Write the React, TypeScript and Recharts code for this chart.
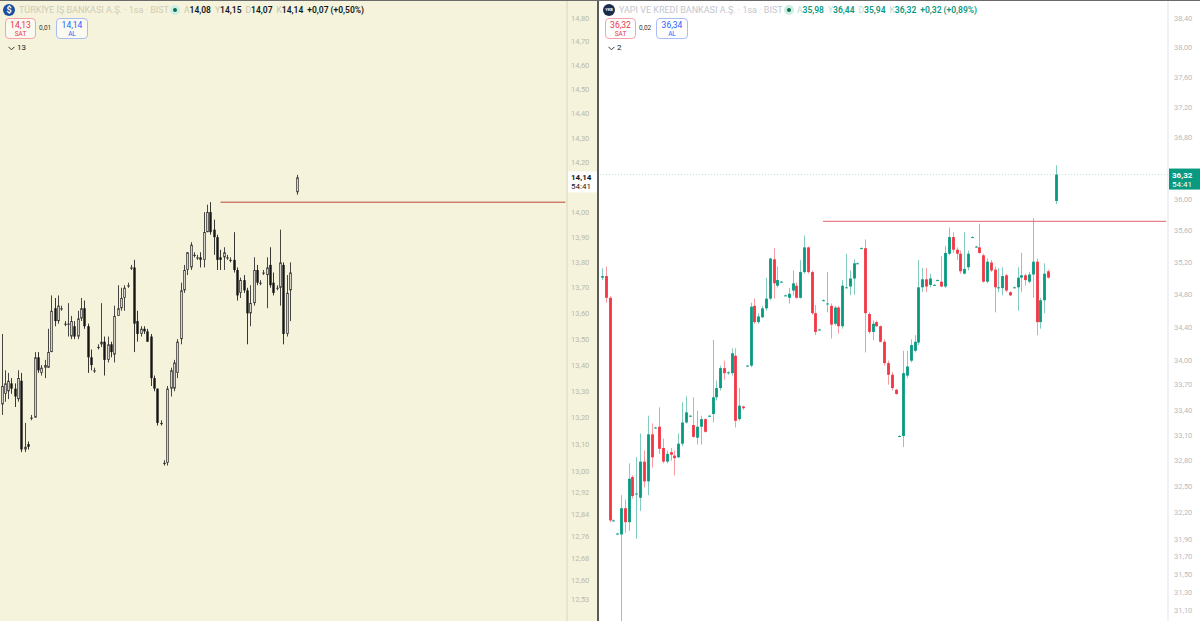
import { Bar, ComposedChart, ReferenceLine, XAxis, YAxis } from "recharts";

// TÜRKİYE İŞ BANKASI, 1sa (left pane)
const IS_OPEN = [13.25, 13.29, 13.30, 13.33, 13.31, 13.27, 13.34, 13.08, 13.10, 13.20, 13.20, 13.43, 13.37, 13.39, 13.39, 13.45, 13.62, 13.57, 13.62, 13.56, 13.56, 13.51, 13.55, 13.51, 13.58, 13.62, 13.55, 13.43, 13.38, 13.47, 13.48, 13.49, 13.42, 13.48, 13.44, 13.59, 13.62, 13.66, 13.71, 13.78, 13.78, 13.57, 13.52, 13.54, 13.53, 13.51, 13.35, 13.31, 13.18, 13.03, 13.03, 13.31, 13.31, 13.37, 13.50, 13.69, 13.77, 13.78, 13.83, 13.82, 13.82, 13.81, 13.92, 14.00, 13.93, 13.90, 13.82, 13.82, 13.82, 13.81, 13.81, 13.77, 13.68, 13.73, 13.69, 13.60, 13.64, 13.77, 13.72, 13.76, 13.75, 13.79, 13.72, 13.70, 13.70, 13.79, 13.52, 13.69, null, 14.08];
const IS_HIGH = [13.52, 13.38, 13.37, 13.35, 13.33, 13.38, 13.37, 13.18, 13.11, 13.21, 13.45, 13.45, 13.40, 13.42, 13.54, 13.67, 13.66, 13.67, 13.63, 13.57, 13.64, 13.59, 13.57, 13.61, 13.66, 13.65, 13.56, 13.46, 13.39, 13.48, 13.64, 13.51, 13.51, 13.49, 13.63, 13.71, 13.70, 13.71, 13.72, 13.79, 13.81, 13.61, 13.55, 13.55, 13.54, 13.52, 13.36, 13.31, 13.19, 13.04, 13.32, 13.39, 13.42, 13.50, 13.72, 13.79, 13.84, 13.88, 13.84, 13.83, 13.84, 14.00, 14.03, 14.04, 13.97, 13.91, 13.85, 13.86, 13.83, 13.82, 13.92, 13.78, 13.74, 13.75, 13.70, 13.71, 13.82, 13.79, 13.73, 13.77, 13.82, 13.86, 13.76, 13.71, 13.93, 13.80, 13.75, 13.80, null, 14.15];
const IS_LOW = [13.21, 13.26, 13.27, 13.29, 13.24, 13.26, 13.07, 13.07, 13.08, 13.19, 13.20, 13.37, 13.36, 13.35, 13.39, 13.45, 13.55, 13.56, 13.61, 13.55, 13.51, 13.50, 13.50, 13.50, 13.57, 13.54, 13.37, 13.38, 13.37, 13.46, 13.47, 13.36, 13.41, 13.43, 13.41, 13.59, 13.61, 13.61, 13.70, 13.77, 13.45, 13.49, 13.51, 13.52, 13.49, 13.32, 13.30, 13.17, 13.17, 13.02, 13.02, 13.28, 13.30, 13.35, 13.48, 13.68, 13.75, 13.77, 13.82, 13.81, 13.78, 13.78, 13.92, 13.91, 13.83, 13.77, 13.77, 13.77, 13.81, 13.80, 13.76, 13.65, 13.66, 13.68, 13.48, 13.55, 13.63, 13.71, 13.71, 13.75, 13.62, 13.70, 13.67, 13.69, 13.63, 13.48, 13.51, 13.57, null, 14.07];
const IS_CLOSE = [13.32, 13.33, 13.34, 13.31, 13.28, 13.35, 13.08, 13.09, 13.09, 13.20, 13.43, 13.38, 13.39, 13.40, 13.45, 13.61, 13.57, 13.63, 13.62, 13.56, 13.56, 13.57, 13.51, 13.58, 13.62, 13.55, 13.43, 13.40, 13.38, 13.47, 13.49, 13.42, 13.48, 13.45, 13.59, 13.62, 13.66, 13.70, 13.71, 13.78, 13.56, 13.52, 13.54, 13.53, 13.49, 13.35, 13.31, 13.18, 13.18, 13.03, 13.31, 13.38, 13.41, 13.49, 13.69, 13.77, 13.84, 13.87, 13.83, 13.82, 13.81, 13.92, 14.00, 13.92, 13.90, 13.81, 13.81, 13.84, 13.82, 13.81, 13.77, 13.67, 13.73, 13.69, 13.60, 13.64, 13.77, 13.72, 13.72, 13.76, 13.78, 13.71, 13.68, 13.70, 13.80, 13.52, 13.68, 13.76, null, 14.14];
const IS_TICKS = [12.53, 12.6, 12.68, 12.76, 12.84, 12.92, 13, 13.1, 13.2, 13.3, 13.4, 13.5, 13.6, 13.7, 13.8, 13.9, 14, 14.2, 14.3, 14.4, 14.5, 14.6, 14.7, 14.8];
const IS_LEVEL = 14.04;
const IS_LAST = 14.14;

// YAPI VE KREDİ BANKASI, 1sa (right pane)
const YKB_OPEN = [35.01, 35.03, 34.76, 32.11, 31.96, 31.95, 32.25, 32.09, 32.61, 32.42, 32.37, 32.79, 32.56, 33.11, 33.19, 33.20, 32.95, 32.79, 32.90, 32.86, 32.84, 33.00, 33.25, 33.33, 33.22, 33.07, 33.20, 33.29, 33.33, 33.35, 33.55, 33.66, 33.90, 33.84, 33.84, 34.05, 33.29, 33.44, 33.93, 33.93, 34.66, 34.46, 34.52, 34.63, 34.75, 35.24, 34.91, 34.96, 34.79, 34.76, 34.85, 34.91, 34.76, 35.08, 35.39, 35.08, 34.57, 34.37, 34.73, 34.69, 34.66, 34.44, 34.64, 34.41, 34.89, 34.90, 35.00, 35.19, 35.38, 35.38, 34.56, 34.34, 34.46, 34.41, 34.22, 33.96, 33.82, 33.64, 33.09, 33.09, 33.81, 33.99, 34.11, 34.21, 34.89, 34.99, 34.92, 34.92, 34.98, 34.96, 34.90, 35.31, 35.52, 35.36, 35.31, 35.06, 35.14, 35.52, 35.40, 35.39, 35.29, 34.96, 35.20, 35.11, 34.88, 34.88, 35.04, 34.83, 34.89, 34.89, 35.01, 35.04, 34.96, 35.05, 35.21, 34.46, 34.73, 35.09, null, 35.98];
const YKB_HIGH = [35.13, 35.15, 34.78, 32.12, 31.97, 32.40, 32.35, 32.77, 32.63, 32.84, 33.12, 32.92, 33.33, 33.24, 33.20, 33.43, 33.06, 32.92, 32.95, 32.92, 33.12, 33.49, 33.56, 33.34, 33.55, 33.39, 33.33, 33.30, 33.34, 34.24, 33.75, 33.93, 33.99, 33.86, 34.14, 34.14, 33.66, 33.45, 33.94, 34.70, 34.75, 34.57, 34.66, 35.01, 35.26, 35.38, 35.15, 34.97, 34.80, 34.88, 35.10, 34.95, 35.23, 35.54, 35.40, 35.10, 34.67, 34.38, 34.74, 35.08, 34.69, 34.66, 34.66, 34.98, 35.31, 35.10, 35.24, 35.20, 35.39, 35.49, 34.58, 34.48, 34.48, 34.42, 34.25, 33.99, 33.85, 33.65, 33.10, 34.11, 34.11, 34.25, 34.30, 35.23, 35.13, 35.13, 35.06, 34.93, 34.99, 35.28, 35.41, 35.64, 35.58, 35.39, 35.35, 35.58, 35.35, 35.53, 35.41, 35.69, 35.31, 35.25, 35.23, 35.15, 35.13, 35.14, 35.06, 34.84, 34.90, 35.14, 35.32, 35.06, 35.08, 35.76, 35.25, 34.76, 35.19, 35.11, null, 36.44];
const YKB_LOW = [34.98, 34.70, 32.09, 32.10, 31.95, 30.80, 31.97, 31.99, 32.36, 31.90, 32.22, 32.49, 32.40, 32.72, 33.18, 32.88, 32.77, 32.77, 32.80, 32.63, 32.83, 32.97, 33.24, 33.32, 33.07, 32.99, 32.99, 33.13, 33.32, 33.25, 33.51, 33.63, 33.76, 33.82, 33.81, 33.19, 33.27, 33.40, 33.92, 33.91, 34.44, 34.44, 34.51, 34.60, 34.73, 34.75, 34.89, 34.95, 34.78, 34.69, 34.79, 34.75, 34.75, 35.06, 35.06, 34.55, 34.30, 34.36, 34.72, 34.58, 34.26, 34.42, 34.32, 34.38, 34.88, 34.79, 34.80, 35.18, 35.37, 34.09, 34.32, 34.24, 34.40, 34.21, 33.93, 33.70, 33.63, 33.58, 33.08, 32.96, 33.78, 33.97, 34.09, 34.18, 34.83, 34.83, 34.89, 34.91, 34.97, 34.89, 34.88, 35.29, 35.32, 35.23, 35.06, 35.05, 35.10, 35.51, 35.39, 35.31, 34.95, 34.94, 35.08, 34.58, 34.83, 34.79, 34.83, 34.78, 34.88, 34.60, 34.83, 34.91, 34.94, 34.76, 34.30, 34.38, 34.57, 35.00, null, 35.94];
const YKB_CLOSE = [35.03, 34.76, 32.11, 32.11, 31.96, 32.25, 32.09, 32.59, 32.39, 32.42, 32.79, 32.56, 33.11, 32.84, 33.19, 32.94, 32.79, 32.88, 32.87, 32.83, 33.00, 33.25, 33.37, 33.33, 33.08, 33.20, 33.29, 33.14, 33.33, 33.55, 33.66, 33.90, 33.84, 33.85, 34.08, 33.27, 33.45, 33.42, 33.93, 34.65, 34.46, 34.53, 34.63, 34.75, 35.25, 34.94, 34.98, 34.96, 34.79, 34.81, 34.94, 34.76, 35.08, 35.39, 35.08, 34.57, 34.34, 34.37, 34.73, 34.69, 34.43, 34.64, 34.41, 34.91, 34.89, 35.00, 35.19, 35.19, 35.38, 34.57, 34.34, 34.44, 34.41, 34.22, 33.96, 33.82, 33.66, 33.59, 33.09, 33.84, 33.92, 34.18, 34.22, 34.89, 34.99, 34.90, 35.00, 34.92, 34.98, 34.90, 35.32, 35.52, 35.36, 35.31, 35.09, 35.12, 35.31, 35.52, 35.40, 35.32, 34.96, 35.21, 35.10, 34.89, 34.89, 35.03, 34.85, 34.79, 34.89, 35.01, 35.04, 34.98, 35.05, 35.21, 34.46, 34.73, 35.06, 35.01, null, 36.32];
const YKB_TICKS = [31.1, 31.3, 31.5, 31.7, 31.9, 32.2, 32.5, 32.8, 33.1, 33.4, 33.7, 34, 34.4, 34.8, 35.2, 35.6, 36, 36.8, 37.2, 37.6, 38, 38.4];
const YKB_LEVEL = 35.72;
const YKB_LAST = 36.32;

const FONT = "Roboto, 'Noto Sans', Arial, sans-serif";
const fmt = (v: number) => v.toFixed(2).replace(".", ",");

type Row = { i: string; o: number | null; h: number | null; l: number | null; c: number | null };

function buildRows(o: any[], h: any[], l: any[], c: any[], slots: number): Row[] {
  return Array.from({ length: slots }, (_, i) => ({
    i: String(i),
    o: o[i] ?? null,
    h: h[i] ?? null,
    l: l[i] ?? null,
    c: c[i] ?? null,
  }));
}

const range = (d: Row) => (d.h == null || d.l == null ? null : [d.l, d.h]);

type CandleStyle = { bodyW: number; up: string; down: string; upStroke: string; wickUp: string; wickDown: string; wickOpacity: number };

function candleShape(st: CandleStyle) {
  return (props: any) => {
    const { x, y, width, height, payload } = props;
    if (!payload || payload.o == null || !isFinite(y)) return <g />;
    const { o, h, l, c } = payload;
    const span = Math.log(h) - Math.log(l);
    const py = (v: number) => (span > 0 ? y + (height * (Math.log(h) - Math.log(v))) / span : y);
    const cx = Math.round(x + width / 2) + 0.5;
    const up = c >= o;
    const top = py(Math.max(o, c));
    const bh = Math.max(py(Math.min(o, c)) - top, 1);
    return (
      <g>
        <line x1={cx} x2={cx} y1={y} y2={y + Math.max(height, 1)} stroke={up ? st.wickUp : st.wickDown} strokeOpacity={st.wickOpacity} strokeWidth={1} />
        {up && st.upStroke !== "none" ? (
          <rect x={cx - st.bodyW / 2 + 0.4} y={top + 0.4} width={st.bodyW - 0.8} height={Math.max(bh - 0.8, 0.4)} fill={st.up} stroke={st.upStroke} strokeWidth={0.8} />
        ) : (
          <rect x={cx - st.bodyW / 2} y={top} width={st.bodyW} height={bh} fill={up ? st.up : st.down} />
        )}
      </g>
    );
  };
}

function PriceTag(props: any) {
  const { viewBox, price, bg, fg, w } = props;
  if (!viewBox) return null;
  const x = viewBox.x + viewBox.width + 1;
  const y = viewBox.y;
  return (
    <g>
      <rect x={x} y={y - 6} width={w} height={21} fill={bg} />
      <text x={x + 3} y={y + 3} fontSize={8} fontWeight={700} fill={fg} fontFamily={FONT}>{price}</text>
      <text x={x + 3} y={y + 12} fontSize={8} fill={fg} fontFamily={FONT}>54:41</text>
    </g>
  );
}

const isRows = buildRows(IS_OPEN, IS_HIGH, IS_LOW, IS_CLOSE, 171);
const ykbRows = buildRows(YKB_OPEN, YKB_HIGH, YKB_LOW, YKB_CLOSE, 149);

const isCandle = candleShape({ bodyW: 2.4, up: "#fbfaf2", down: "#151515", upStroke: "#2a2a2a", wickUp: "#333", wickDown: "#222", wickOpacity: 0.9 });
const ykbCandle = candleShape({ bodyW: 2.8, up: "#089981", down: "#f23645", upStroke: "none", wickUp: "#089981", wickDown: "#f23645", wickOpacity: 0.5 });

function Chevron({ x, y }: { x: number; y: number }) {
  return (
    <svg width={7} height={5} style={{ position: "absolute", left: x, top: y }}>
      <polyline points="0.5,0.8 3.5,3.8 6.5,0.8" fill="none" stroke="#333" strokeWidth={1} />
    </svg>
  );
}

function Legend(props: {
  left: number; icon: string; iconBg: string; title: string; titleColor: string; valColor: string;
  vals: string[]; chg: string; sat: string; al: string; spread: string; count: string; faint: string; boxBg: string;
}) {
  const p = props;
  const labels = ["A", "Y", "D", "K"];
  return (
    <div style={{ position: "absolute", left: p.left, top: 0, width: 590, height: 60, fontFamily: FONT, pointerEvents: "none" }}>
      <div style={{ position: "absolute", left: 3, top: 4, width: 12, height: 12, borderRadius: 6, background: p.iconBg, color: "#fff", fontSize: p.icon.length > 1 ? 4 : 9, fontWeight: 700, lineHeight: "12px", textAlign: "center" }}>{p.icon}</div>
      <div style={{ position: "absolute", left: 19, top: 4, fontSize: 9, lineHeight: "12px", color: p.titleColor, whiteSpace: "nowrap" }}>{p.title}</div>
      <div style={{ position: "absolute", left: 170 + (p.left ? 14 : 0), top: 5, width: 10, height: 10, borderRadius: 5, background: "#cdeee2" }}>
        <div style={{ position: "absolute", left: 3, top: 3, width: 4, height: 4, borderRadius: 2, background: "#0b6e53" }} />
      </div>
      <div style={{ position: "absolute", left: 184 + (p.left ? 13 : 0), top: 4, fontSize: 8.5, lineHeight: "12px", whiteSpace: "nowrap", color: p.valColor, fontWeight: 600 }}>
        {p.vals.map((v, k) => (
          <span key={k}>
            <span style={{ color: p.faint, fontWeight: 400 }}>{labels[k]}</span>
            <span style={{ marginRight: 4 }}>{v}</span>
          </span>
        ))}
        <span>{p.chg}</span>
      </div>
      <div style={{ position: "absolute", left: 5, top: 18, width: 29, height: 19, border: "1px solid #f5a3ab", borderRadius: 4, background: p.boxBg, color: "#e8364a", textAlign: "center" }}>
        <div style={{ fontSize: 8.5, lineHeight: "10px", marginTop: 1 }}>{p.sat}</div>
        <div style={{ fontSize: 6.5, lineHeight: "8px" }}>SAT</div>
      </div>
      <div style={{ position: "absolute", left: 39, top: 24, fontSize: 6.5, color: "#333" }}>{p.spread}</div>
      <div style={{ position: "absolute", left: 56, top: 18, width: 30, height: 19, border: "1px solid #a9bdf4", borderRadius: 4, background: p.boxBg, color: "#2962ff", textAlign: "center" }}>
        <div style={{ fontSize: 8.5, lineHeight: "10px", marginTop: 1 }}>{p.al}</div>
        <div style={{ fontSize: 6.5, lineHeight: "8px" }}>AL</div>
      </div>
      <Chevron x={8} y={46} />
      <div style={{ position: "absolute", left: 17, top: 43, fontSize: 8, color: "#222" }}>{p.count}</div>
    </div>
  );
}

export default function App() {
  return (
    <div style={{ position: "fixed", left: 0, top: 0, width: 1200, height: 621, overflow: "hidden", background: "#fff" }}>
      {/* left pane */}
      <div style={{ position: "absolute", left: 0, top: 0, width: 597, height: 621, background: "#f5f3dc" }}>
        <ComposedChart width={597} height={621} data={isRows} margin={{ top: 0, right: 0, bottom: 0, left: 0 }} barCategoryGap={0}>
          <XAxis dataKey="i" hide />
          <YAxis
            orientation="right"
            width={30}
            scale="log"
            domain={[12.453, 14.877]}
            allowDataOverflow
            ticks={IS_TICKS}
            interval={0}
            tickSize={0}
            tickMargin={4}
            tickLine={false}
            axisLine={{ stroke: "#d9d6c0" }}
            tick={{ fontSize: 7.5, fill: "#bdbaa4", fontFamily: FONT }}
            tickFormatter={fmt}
          />
          <ReferenceLine segment={[{ x: "66", y: IS_LEVEL }, { x: "170", y: IS_LEVEL }]} stroke="#b9473b" strokeWidth={1} />
          <Bar dataKey={range} shape={isCandle} isAnimationActive={false} />
          <ReferenceLine y={IS_LAST} stroke="none" label={<PriceTag price={fmt(IS_LAST)} bg="#ffffff" fg="#131722" w={29} />} />
        </ComposedChart>
      </div>
      <div style={{ position: "absolute", left: 597, top: 0, width: 2, height: 621, background: "#5a5a5a" }} />
      {/* right pane */}
      <div style={{ position: "absolute", left: 600, top: 0, width: 600, height: 621, background: "#ffffff" }}>
        <ComposedChart width={600} height={621} data={ykbRows} margin={{ top: 0, right: 0, bottom: 0, left: 0 }} barCategoryGap={0}>
          <XAxis dataKey="i" hide />
          <YAxis
            orientation="right"
            width={32}
            scale="log"
            domain={[30.98, 38.65]}
            allowDataOverflow
            ticks={YKB_TICKS}
            interval={0}
            tickSize={0}
            tickMargin={6}
            tickLine={false}
            axisLine={{ stroke: "#e0e3eb" }}
            tick={{ fontSize: 7.5, fill: "#b8bbc3", fontFamily: FONT }}
            tickFormatter={fmt}
          />
          <ReferenceLine y={YKB_LAST} stroke="#089981" strokeOpacity={0.25} strokeDasharray="1 2" />
          <ReferenceLine segment={[{ x: "58", y: YKB_LEVEL }, { x: "148", y: YKB_LEVEL }]} stroke="#e2626c" strokeWidth={1} />
          <Bar dataKey={range} shape={ykbCandle} isAnimationActive={false} />
          <ReferenceLine y={YKB_LAST} stroke="none" label={<PriceTag price={fmt(YKB_LAST)} bg="#089981" fg="#ffffff" w={31} />} />
        </ComposedChart>
      </div>
      <div style={{ position: "absolute", left: 0, top: 0, width: 1200, height: 1, background: "#6a6a6a" }} />
      <Legend
        left={0}
        icon="$"
        iconBg="#1d4f9e"
        title="TÜRKİYE İŞ BANKASI A.Ş. · 1sa · BIST"
        titleColor="#cfccb6"
        valColor="#131722"
        faint="#c9c6b0"
        vals={["14,08", "14,15", "14,07", "14,14"]}
        chg="+0,07 (+0,50%)"
        sat="14,13"
        al="14,14"
        spread="0,01"
        count="13"
        boxBg="#fbfaf0"
      />
      <Legend
        left={600}
        icon="YKB"
        iconBg="#1c2c4c"
        title="YAPI VE KREDİ BANKASI A.Ş. · 1sa · BIST"
        titleColor="#c3c6ce"
        valColor="#089981"
        faint="#b9dcd3"
        vals={["35,98", "36,44", "35,94", "36,32"]}
        chg="+0,32 (+0,89%)"
        sat="36,32"
        al="36,34"
        spread="0,02"
        count="2"
        boxBg="#ffffff"
      />
    </div>
  );
}
